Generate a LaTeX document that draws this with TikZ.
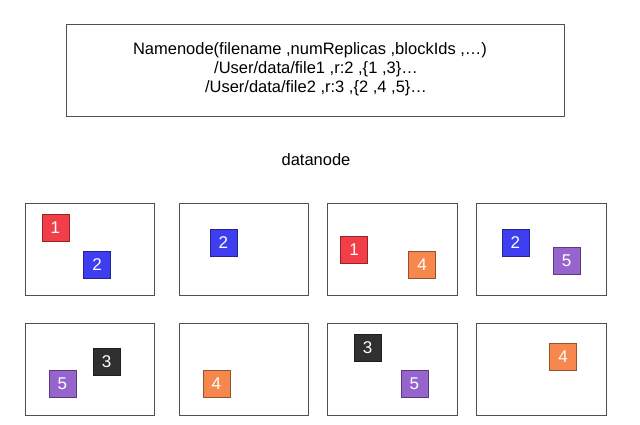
\documentclass[tikz,border=0pt]{standalone}
\usepackage{fontspec}
\setmainfont{Liberation Sans}
\definecolor{cred}{RGB}{242,62,72}
\definecolor{cblue}{RGB}{62,62,240}
\definecolor{corange}{RGB}{246,136,78}
\definecolor{cpurple}{RGB}{150,100,204}
\definecolor{cblack}{RGB}{48,48,48}
\definecolor{cframe}{RGB}{80,80,80}
\begin{document}
\begin{tikzpicture}[x=1pt,y=-1pt,
  frame/.style={draw=cframe,line width=0.9pt,fill=white},
  blk/.style={draw=#1!60!black,fill=#1,line width=0.6pt,minimum size=27pt,inner sep=0pt,text=white,font=\fontsize{17}{17}\selectfont},
  txt/.style={font=\fontsize{16.5}{18}\selectfont,inner sep=0pt}]
\useasboundingbox[fill=white] (0,0) rectangle (640,425);
% namenode
\node[frame,minimum width=498pt,minimum height=92pt,inner sep=0pt] (nn) at (315,70) {};
\node[txt] (l1) at (310,50) {Namenode(filename ,numReplicas ,blockIds ,…)};
\node[txt] (l2) at (316,69) {/User/data/file1 ,r:2 ,\{1 ,3\}…};
\node[txt] (l3) at (316,88) {/User/data/file2 ,r:3 ,\{2 ,4 ,5\}…};
\node[txt] (dn) at (316,160) {datanode};
% datanode boxes
\foreach \n/\x/\y in {a/89.7/249, b/243.8/249, c/392.5/249, d/541.5/249,
                     e/89.7/369, f/243.8/369, g/392.5/369, h/541.5/369}
  \node[frame,minimum width=129.5pt,minimum height=92pt,inner sep=0pt] (\n) at (\x,\y) {};
% blocks
\node[blk=cred] (a1) at (55.3,227.7) {1};
\node[blk=cblue] (a2) at (97,265) {2};
\node[blk=cblue] (b2) at (223.3,242.3) {2};
\node[blk=cred] (c1) at (354,249.3) {1};
\node[blk=corange] (c4) at (422,265) {4};
\node[blk=cblue] (d2) at (515.3,242.3) {2};
\node[blk=cpurple] (d5) at (566.7,260.7) {5};
\node[blk=cblack] (e3) at (106.7,361.3) {3};
\node[blk=cpurple] (e5) at (62.3,383.7) {5};
\node[blk=corange] (f4) at (216.3,383.7) {4};
\node[blk=cblack] (g3) at (367.7,347.3) {3};
\node[blk=cpurple] (g5) at (414.3,383.7) {5};
\node[blk=corange] (h4) at (563,357) {4};
\end{tikzpicture}
\end{document}
